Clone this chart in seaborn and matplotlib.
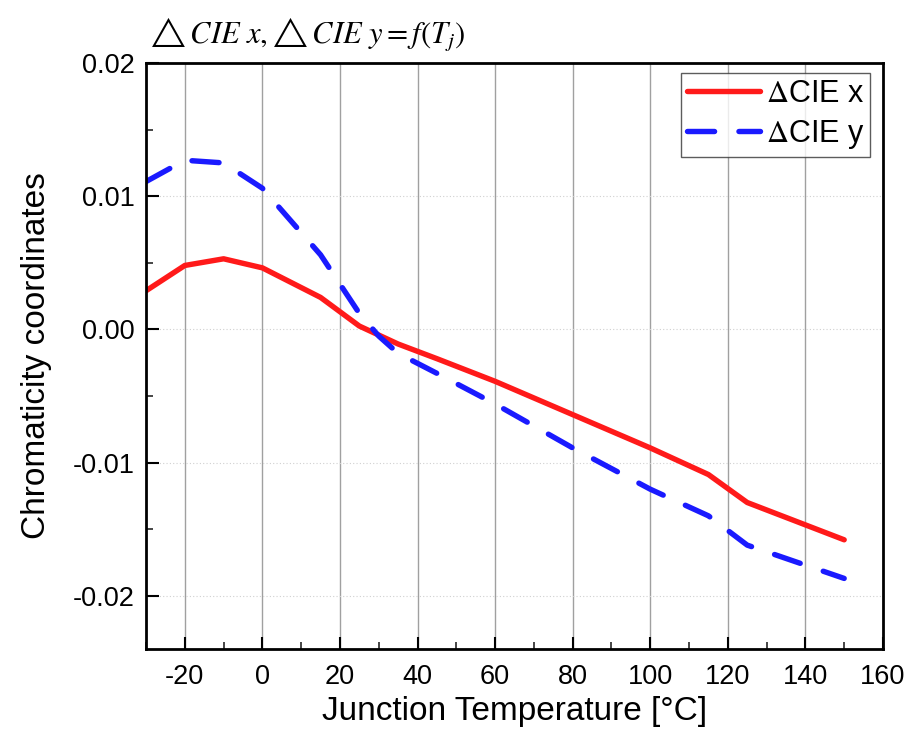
import pandas as pd
import seaborn as sns
import matplotlib.pyplot as plt
from matplotlib.ticker import MultipleLocator

# values
temp_x = [-30, -20, -10, 0, 15, 25, 35, 45, 60, 80, 100, 115, 125, 150]
cie_x = [0.0029, 0.0048, 0.0053, 0.00462, 0.0024, 0.00025, -0.0011, -0.0022,
         -0.0039, -0.0064, -0.0089, -0.0109, -0.0130, -0.0158]

temp_y = [-30, -20, -10, 0, 15, 25, 30, 35, 45, 60, 80, 100, 115, 125, 150]
cie_y = [0.0111, 0.0127, 0.0125, 0.0106, 0.0056, 0.0012, -0.0005, -0.0018,
         -0.0033, -0.0056, -0.0089, -0.0120, -0.0140, -0.0162, -0.0187]

x_ticks = [-20, 0, 20, 40, 60, 80, 100, 120, 140, 160]
y_ticks = [-0.02, -0.01, 0.0, 0.01, 0.02]
y_labels = ["-0.02", "-0.01", "0.00", "0.01", "0.02"]

sns.set_theme(style="white")
plt.rcParams['font.family'] = ['Liberation Sans', 'DejaVu Sans']
plt.rcParams['mathtext.fontset'] = 'stix'
plt.rcParams['axes.unicode_minus'] = False
plt.rcParams['text.color'] = 'black'
plt.rcParams['axes.labelcolor'] = 'black'

df_x = pd.DataFrame({"T": temp_x, "v": cie_x})
df_y = pd.DataFrame({"T": temp_y, "v": cie_y})

fig = plt.figure(figsize=(9.07, 7.33), dpi=100)
ax = fig.add_axes([0.161, 0.1146, 0.8125, 0.7994])

# grid first so lines sit on top
for t in x_ticks[:-1]:
    ax.axvline(t, color="#a0a0a0", lw=1.0, zorder=0)
for t in y_ticks:
    ax.axhline(t, color="#d0d0d0", lw=0.8, ls=(0, (1, 2)), zorder=0)

sns.lineplot(data=df_x, x="T", y="v", ax=ax, color="#ff1a1a", lw=3.9,
             label=r"$\Delta$CIE x", solid_capstyle="round")
sns.lineplot(data=df_y, x="T", y="v", ax=ax, color="#1a1aff", lw=3.9,
             label=r"$\Delta$CIE y", dashes=(5, 4.5), dash_capstyle="round")

ax.set_xlim(-30, 160)
ax.set_ylim(-0.024, 0.02)
ax.set_xticks(x_ticks)
ax.set_yticks(y_ticks)
ax.set_yticklabels(y_labels)
ax.xaxis.set_minor_locator(MultipleLocator(10))
ax.yaxis.set_minor_locator(MultipleLocator(0.005))
ax.tick_params(axis="both", which="major", direction="in", length=9, width=1.5,
               labelsize=19.5, colors="black", bottom=True, left=True)
ax.tick_params(axis="both", which="minor", direction="in", length=5, width=1.2,
               bottom=True, left=True)
ax.tick_params(axis="x", pad=11)
ax.tick_params(axis="y", pad=8)

for s in ax.spines.values():
    s.set_color("black")
    s.set_linewidth(2)

ax.set_xlabel("Junction Temperature [°C]", fontsize=24, labelpad=4)
ax.set_ylabel("Chromaticity coordinates", fontsize=24, labelpad=15)

ax.text(0.0, 1.015, r"$\triangle CIE\ x,\!\triangle CIE\ y = f\left(T_j\right)$",
        transform=ax.transAxes, fontsize=22, ha="left", va="bottom")

leg = ax.legend(loc="upper right", fontsize=22, frameon=True, fancybox=False,
                edgecolor="#333333", handlelength=2.4, handletextpad=0.2,
                borderpad=0.18, labelspacing=0.3, borderaxespad=0.3,
                bbox_to_anchor=(0.995, 0.998))
leg.get_frame().set_linewidth(1.0)

plt.savefig("out.png", dpi=100)
